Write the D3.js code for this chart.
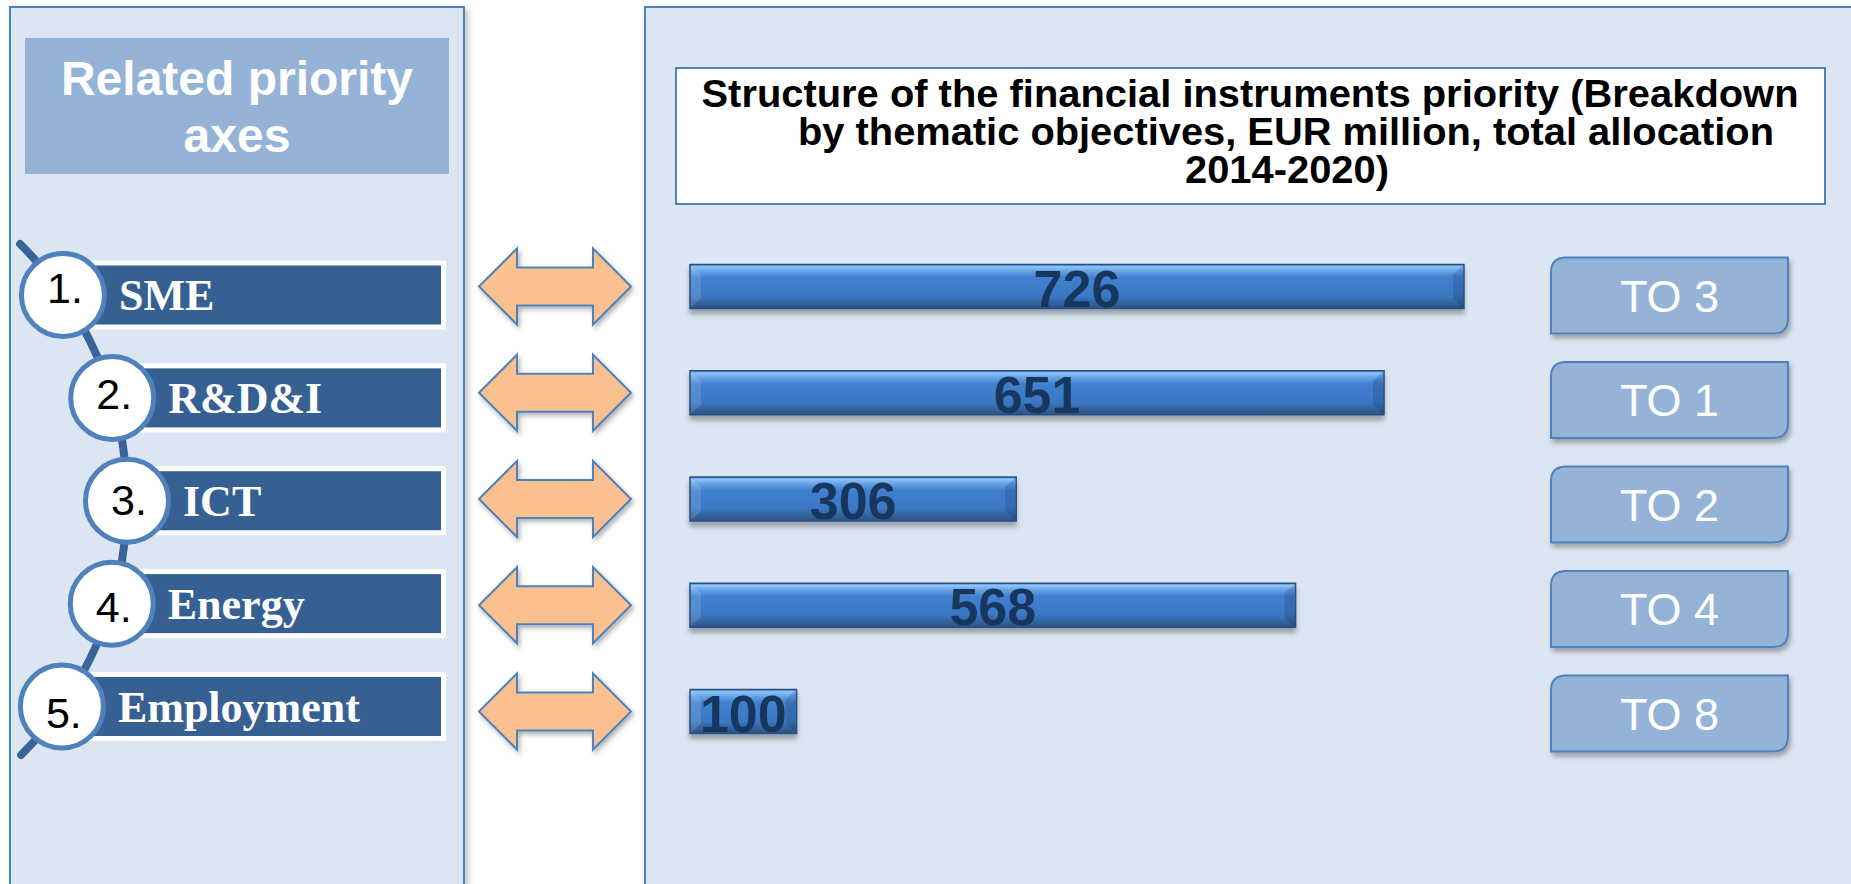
<!DOCTYPE html>
<html>
<head>
<meta charset="utf-8">
<script src="https://cdn.jsdelivr.net/npm/d3@7"></script>
<style>
  html, body { margin: 0; padding: 0; background: #fff; }
  svg { display: block; }
</style>
</head>
<body>
<svg id="chart" width="1851" height="884"></svg>
<script>
// --- DATOS ---
const axes       = ["SME", "R&D&I", "ICT", "Energy", "Employment"];
const axisNums   = ["1.", "2.", "3.", "4.", "5."];
const values     = [726, 651, 306, 568, 100];
const objectives = ["TO 3", "TO 1", "TO 2", "TO 4", "TO 8"];
const titleLines = [
  "Structure of the financial instruments priority (Breakdown",
  "by thematic objectives, EUR million, total allocation",
  "2014-2020)"
];
const headerLines = ["Related priority", "axes"];

const svg  = d3.select("#chart");
const defs = svg.append("defs");

// sombras
function shadow(id, dx, dy, blur, op) {
  const f = defs.append("filter").attr("id", id)
    .attr("x", "-20%").attr("y", "-20%").attr("width", "140%").attr("height", "160%");
  f.append("feDropShadow")
    .attr("dx", dx).attr("dy", dy).attr("stdDeviation", blur)
    .attr("flood-color", "#000").attr("flood-opacity", op);
}
shadow("panelShadow", 3, 3, 3, 0.25);
shadow("barShadow", 0, 5, 2.5, 0.3);
shadow("boxShadow", 2, 4, 2.5, 0.3);
shadow("arrowShadow", 2, 3, 2.5, 0.3);

const grad = defs.append("linearGradient").attr("id", "barGrad")
  .attr("x1", 0).attr("y1", 0).attr("x2", 0).attr("y2", 1);
[[0, "#4a86d0"], [0.05, "#8ec5f8"], [0.14, "#6aa6e8"], [0.3, "#4080cf"],
 [0.72, "#3b77c3"], [0.86, "#33659f"], [1, "#2a5283"]]
  .forEach(([o, c]) => grad.append("stop").attr("offset", o).attr("stop-color", c));

// --- PANELES ---
svg.append("rect")
  .attr("x", 10).attr("y", 7).attr("width", 454).attr("height", 900)
  .attr("fill", "#dce6f2").attr("stroke", "#4f81bd").attr("stroke-width", 2)
  .attr("filter", "url(#panelShadow)");
svg.append("rect")
  .attr("x", 645).attr("y", 7).attr("width", 1230).attr("height", 900)
  .attr("fill", "#dce6f2").attr("stroke", "#4f81bd").attr("stroke-width", 2)
  .attr("filter", "url(#panelShadow)");

// cabecera izquierda
svg.append("rect")
  .attr("x", 25).attr("y", 38).attr("width", 424).attr("height", 136)
  .attr("fill", "#95b3d7");
svg.selectAll(".header-line").data(headerLines).join("text")
  .attr("class", "header-line")
  .attr("x", 237).attr("y", (d, i) => 95 + i * 57)
  .attr("text-anchor", "middle")
  .style("font-family", "'Liberation Sans', Arial, sans-serif")
  .style("font-size", "48px").style("font-weight", "700")
  .attr("fill", "#fff").text(d => d);

// título derecho
svg.append("rect")
  .attr("x", 676).attr("y", 68).attr("width", 1149).attr("height", 136)
  .attr("fill", "#fff").attr("stroke", "#4f81bd").attr("stroke-width", 2);
const titleX = [1250, 1286, 1287];
const titleW = [1097, 976, 204];
svg.selectAll(".title-line").data(titleLines).join("text")
  .attr("class", "title-line")
  .attr("x", (d, i) => titleX[i]).attr("y", (d, i) => 107 + i * 38)
  .attr("text-anchor", "middle")
  .attr("textLength", (d, i) => titleW[i])
  .attr("lengthAdjust", "spacingAndGlyphs")
  .style("font-family", "'Liberation Sans Narrow', 'Liberation Sans', Arial, sans-serif")
  .style("font-size", "39px").style("font-weight", "700")
  .attr("fill", "#000").text(d => d);

// --- EJES PRIORITARIOS (izquierda) ---
const arcC = { x: -233, y: 500, r: 360 };
const arcX = y => arcC.x + Math.sqrt(arcC.r * arcC.r - (y - arcC.y) ** 2);
const yAxis = d3.scalePoint().domain(axes).range([295, 706.5]);

svg.append("path")
  .attr("d", `M${arcX(244)},244 A${arcC.r},${arcC.r} 0 0 1 ${arcX(755)},755`)
  .attr("fill", "none").attr("stroke", "#3a6397")
  .attr("stroke-width", 8).attr("stroke-linecap", "round");

const items = svg.selectAll(".axis-item").data(axes).join("g").attr("class", "axis-item");
items.append("rect")
  .attr("x", d => arcX(yAxis(d))).attr("y", d => yAxis(d) - 32)
  .attr("width", d => 443.5 - arcX(yAxis(d))).attr("height", 64)
  .attr("fill", "#376092").attr("stroke", "#fff").attr("stroke-width", 5);
items.append("text")
  .attr("x", d => arcX(yAxis(d)) + 56).attr("y", d => yAxis(d) + 15)
  .style("font-family", "'Liberation Serif', 'Times New Roman', serif")
  .style("font-size", "44px").style("font-weight", "700")
  .attr("fill", "#fff").text(d => d);
items.append("circle")
  .attr("cx", d => arcX(yAxis(d))).attr("cy", d => yAxis(d)).attr("r", 41.5)
  .attr("fill", "#fff").attr("stroke", "#4f81bd").attr("stroke-width", 5);
items.append("text")
  .attr("x", d => arcX(yAxis(d)) + 2)
  .attr("y", (d, i) => yAxis(d) + 8 + i * 3.3)
  .attr("text-anchor", "middle")
  .style("font-family", "'Liberation Sans', Arial, sans-serif")
  .style("font-size", "43px")
  .attr("fill", "#000").text((d, i) => axisNums[i]);

// --- FLECHAS ---
const yBar = d3.scalePoint().domain(axes).range([286.5, 711.5]);
const arrowPts = [[479, 0], [517, -38], [517, -19], [593, -19], [593, -38],
                  [631, 0], [593, 38], [593, 19], [517, 19], [517, 38]];
svg.selectAll(".arrow").data(axes).join("polygon")
  .attr("class", "arrow")
  .attr("points", d => arrowPts.map(p => `${p[0]},${p[1] + yBar(d)}`).join(" "))
  .attr("fill", "#fac090").attr("stroke", "#4f81bd").attr("stroke-width", 2)
  .attr("stroke-linejoin", "miter")
  .attr("filter", "url(#arrowShadow)");

// --- BARRAS ---
const x = d3.scaleLinear().domain([0, 726]).range([690, 1464]);
const barH = 44, bev = 10;
const bars = svg.selectAll(".bar").data(values).join("g").attr("class", "bar");
bars.append("rect")
  .attr("x", x(0)).attr("y", (d, i) => yBar(axes[i]) - barH / 2)
  .attr("width", d => x(d) - x(0)).attr("height", barH)
  .attr("fill", "url(#barGrad)").attr("stroke", "#2a4f80").attr("stroke-width", 1.5)
  .attr("filter", "url(#barShadow)");
// bisel izquierdo y derecho
bars.append("path")
  .attr("d", (d, i) => {
    const y0 = yBar(axes[i]) - barH / 2, y1 = y0 + barH, x0 = x(0) + 1;
    return `M${x0},${y0 + 1}L${x0 + bev},${y0 + bev}L${x0 + bev},${y1 - bev}L${x0},${y1 - 1}Z`;
  })
  .attr("fill", "#fff").attr("opacity", 0.13);
bars.append("path")
  .attr("d", (d, i) => {
    const y0 = yBar(axes[i]) - barH / 2, y1 = y0 + barH, x1 = x(d) - 1;
    return `M${x1},${y0 + 1}L${x1 - bev},${y0 + bev}L${x1 - bev},${y1 - bev}L${x1},${y1 - 1}Z`;
  })
  .attr("fill", "#0b2447").attr("opacity", 0.18);
bars.append("text")
  .attr("x", d => (x(0) + x(d)) / 2).attr("y", (d, i) => yBar(axes[i]) + 20)
  .attr("text-anchor", "middle")
  .style("font-family", "'Liberation Sans', Arial, sans-serif")
  .style("font-size", "52px").style("font-weight", "700")
  .attr("fill", "#17375e").text(d => d);

// --- OBJETIVOS TEMÁTICOS ---
const yTO = d3.scalePoint().domain(objectives).range([295.5, 713.5]);
const boxX0 = 1551, boxX1 = 1788, boxH = 76, rc = 15;
const boxes = svg.selectAll(".to-box").data(objectives).join("g").attr("class", "to-box");
boxes.append("path")
  .attr("d", d => {
    const y0 = yTO(d) - boxH / 2, y1 = y0 + boxH;
    return `M${boxX0},${y0 + rc}Q${boxX0},${y0} ${boxX0 + rc},${y0}L${boxX1},${y0}` +
           `L${boxX1},${y1 - rc}Q${boxX1},${y1} ${boxX1 - rc},${y1}L${boxX0},${y1}Z`;
  })
  .attr("fill", "#95b3d7").attr("stroke", "#4f81bd").attr("stroke-width", 2)
  .attr("filter", "url(#boxShadow)");
boxes.append("text")
  .attr("x", (boxX0 + boxX1) / 2).attr("y", d => yTO(d) + 16)
  .attr("text-anchor", "middle")
  .style("font-family", "'Liberation Sans', Arial, sans-serif")
  .style("font-size", "45px")
  .attr("fill", "#fff").text(d => d);
</script>
</body>
</html>
